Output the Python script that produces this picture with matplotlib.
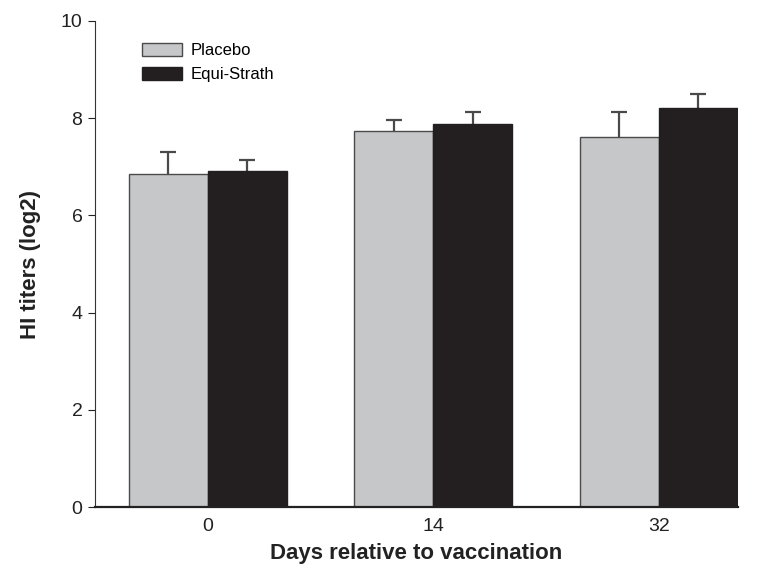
import matplotlib
matplotlib.use('Agg')

import matplotlib.pyplot as plt
import numpy as np

# Datos
dias = ['0', '14', '32']
placebo = [6.85, 7.74, 7.61]
placebo_err = [0.45, 0.22, 0.52]
equi = [6.91, 7.88, 8.21]
equi_err = [0.23, 0.25, 0.29]

GRIS = '#c6c7c9'
NEGRO = '#231f20'
BORDE = '#4a4a4a'

plt.rcParams['font.family'] = ['Liberation Sans', 'DejaVu Sans']

fig = plt.figure(figsize=(7.63, 5.78), dpi=100)
ax = fig.add_axes([0.1245, 0.1228, 0.8425, 0.8409])

x = np.arange(len(dias))
w = 0.35

ax.bar(x - w / 2, placebo, w, color=GRIS, edgecolor=BORDE, linewidth=1.0,
       label='Placebo', zorder=3)
ax.bar(x + w / 2, equi, w, color=NEGRO, edgecolor=NEGRO, linewidth=1.0,
       label='Equi-Strath', zorder=3)

# Solo barra de error superior: se oculta el cap inferior
for pos, vals, err in [(x - w / 2, placebo, placebo_err),
                       (x + w / 2, equi, equi_err)]:
    eb = ax.errorbar(pos, vals, yerr=[np.zeros(3), err], fmt='none',
                     ecolor=BORDE, elinewidth=1.6, capsize=5.5, capthick=1.6,
                     zorder=2)
    eb[1][0].set_visible(False)

ax.set_xlim(-0.5, 2 + w)
ax.set_ylim(0, 10)
ax.set_xticks(x)
ax.set_xticklabels(dias)
ax.set_yticks([0, 2, 4, 6, 8, 10])

ax.spines['top'].set_visible(False)
ax.spines['right'].set_visible(False)
ax.spines['left'].set_color('#333333')
ax.spines['bottom'].set_color('#222222')
ax.spines['bottom'].set_linewidth(1.6)
ax.spines['bottom'].set_zorder(4)
ax.tick_params(axis='x', length=0, labelsize=14, pad=8, colors='#222222')
ax.tick_params(axis='y', length=5, labelsize=14, pad=4, colors='#222222')

ax.set_xlabel('Days relative to vaccination', fontsize=16, fontweight='bold',
              labelpad=6, color='#222222')
ax.set_ylabel('HI titers (log2)', fontsize=16, fontweight='bold',
              labelpad=14, color='#222222')

ax.legend(loc='upper left', bbox_to_anchor=(0.05, 0.985), frameon=False,
          fontsize=12, handlelength=2.4, handleheight=0.8, handletextpad=0.5,
          labelspacing=0.5)

plt.savefig('out.png', dpi=100)
plt.close(fig)
